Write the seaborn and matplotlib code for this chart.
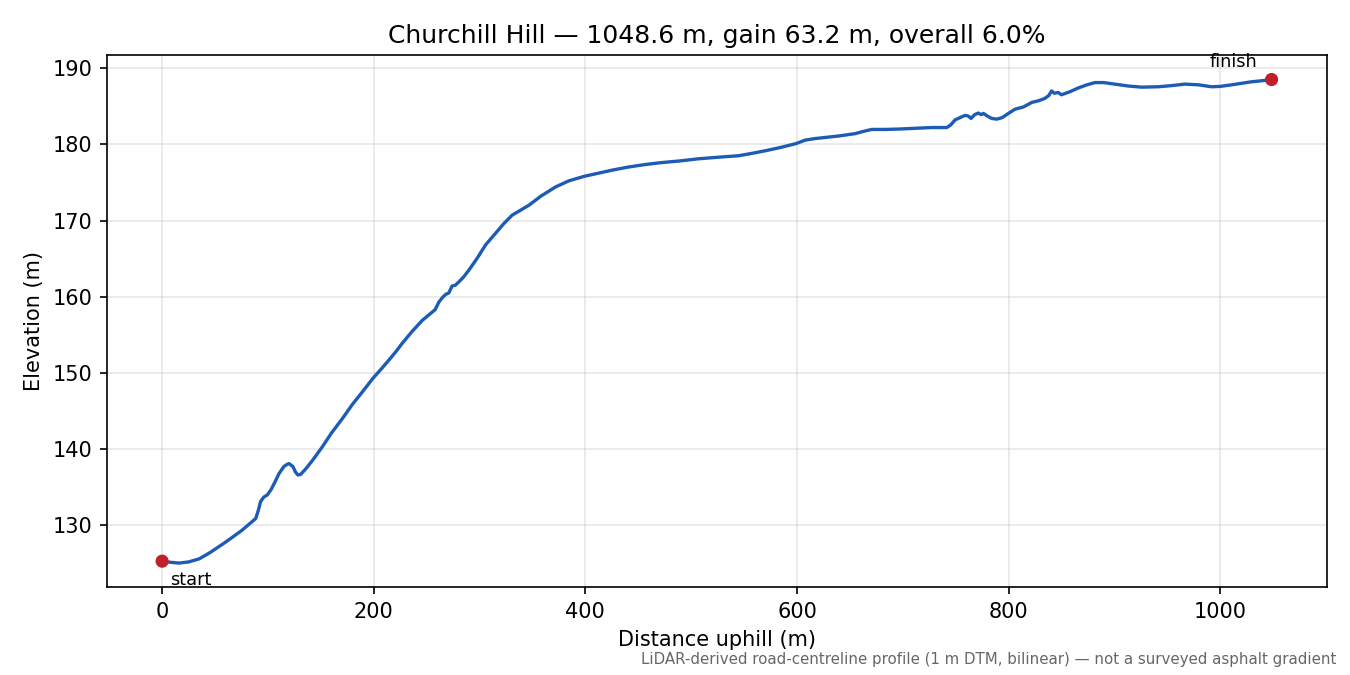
import numpy as np
import pandas as pd
import matplotlib
matplotlib.use("Agg")
import matplotlib.pyplot as plt
import seaborn as sns

# profile (distance along road, elevation)
distance_m = [0, 8, 16, 25, 35, 45, 60, 75, 88.5, 91, 93, 96, 99.5, 103, 106.7,
              110.5, 115, 118, 120, 123.7, 126, 128.4, 131, 135.7, 142, 151.4,
              160, 170.3, 180, 189.2, 199.3, 207, 214.4, 221, 227, 236, 245.9,
              252, 258, 261.6, 265, 268, 271, 274, 277, 280.5, 285, 290, 298,
              305.7, 315, 323, 330.8, 338, 346.6, 358, 371.8, 384.3, 399, 412,
              425, 440, 456.7, 472, 488, 507, 525, 544.8, 557, 570, 585, 599.3,
              607.8, 617, 626.7, 640, 655, 663, 670.7, 683, 696, 712, 727.4,
              741.6, 745, 749.5, 754, 759, 762, 764.6, 768, 771.5, 774, 776.3,
              780, 784, 788.8, 794, 799.8, 806, 814, 822, 828, 834, 838, 840.7,
              843.2, 847, 850, 858, 866, 874, 881.7, 890, 900.5, 913, 925.7,
              941.5, 954, 966.7, 980, 991.8, 1000, 1010.7, 1020, 1029.6, 1040,
              1048.6]
elevation_m = [125.3, 125.15, 125.05, 125.2, 125.6, 126.4, 127.8, 129.3, 130.9,
               132.0, 133.1, 133.7, 134.0, 134.7, 135.7, 136.8, 137.7, 138.0,
               138.1, 137.7, 137.0, 136.6, 136.7, 137.4, 138.5, 140.3, 142.1,
               144.0, 145.9, 147.5, 149.3, 150.5, 151.7, 152.8, 153.9, 155.4,
               156.9, 157.6, 158.3, 159.3, 159.9, 160.3, 160.5, 161.4, 161.5,
               161.95, 162.6, 163.5, 165.1, 166.8, 168.3, 169.6, 170.7, 171.3,
               172.0, 173.2, 174.4, 175.2, 175.8, 176.2, 176.6, 177.0, 177.35,
               177.6, 177.8, 178.1, 178.3, 178.5, 178.8, 179.15, 179.6, 180.1,
               180.55, 180.75, 180.9, 181.1, 181.4, 181.7, 181.95, 181.95,
               182.0, 182.1, 182.2, 182.2, 182.5, 183.2, 183.5, 183.8, 183.7,
               183.4, 183.9, 184.1, 183.9, 184.05, 183.7, 183.4, 183.3, 183.5,
               184.05, 184.6, 184.9, 185.5, 185.7, 186.0, 186.4, 187.0, 186.7,
               186.8, 186.5, 186.9, 187.4, 187.8, 188.1, 188.1, 187.9, 187.65,
               187.5, 187.55, 187.7, 187.9, 187.8, 187.55, 187.6, 187.8, 188.0,
               188.2, 188.35, 188.5]

profile = pd.DataFrame({"distance": distance_m, "elevation": elevation_m})
ends = profile.iloc[[0, -1]]

length = distance_m[-1]
gain = elevation_m[-1] - elevation_m[0]
overall = gain / length * 100

fig, ax = plt.subplots(figsize=(9, 4.5), dpi=150)
fig.subplots_adjust(left=0.079, right=0.983, top=0.918, bottom=0.130)

sns.lineplot(data=profile, x="distance", y="elevation", color="#1c5cb5",
             linewidth=1.6, ax=ax, sort=False)
sns.scatterplot(data=ends, x="distance", y="elevation", color="#c0202a",
                s=40, edgecolor="none", zorder=5, ax=ax)

ax.annotate("start", (distance_m[0], elevation_m[0]), xytext=(4, -4.5),
            textcoords="offset points", ha="left", va="top", fontsize=8.5)
ax.annotate("finish", (distance_m[-1], elevation_m[-1]), xytext=(-7, 4),
            textcoords="offset points", ha="right", va="bottom", fontsize=8.5)

ax.grid(True, alpha=0.3)
ax.set_title(f"Churchill Hill \u2014 {length:.1f} m, gain {gain:.1f} m, overall {overall:.1f}%")
ax.set_xlabel("Distance uphill (m)")
ax.set_ylabel("Elevation (m)")

fig.text(0.99, 0.012,
         "LiDAR-derived road-centreline profile (1 m DTM, bilinear) \u2014 not a surveyed asphalt gradient",
         ha="right", va="bottom", fontsize=7.2, color="#666666")

fig.savefig("out.png", dpi=150)
